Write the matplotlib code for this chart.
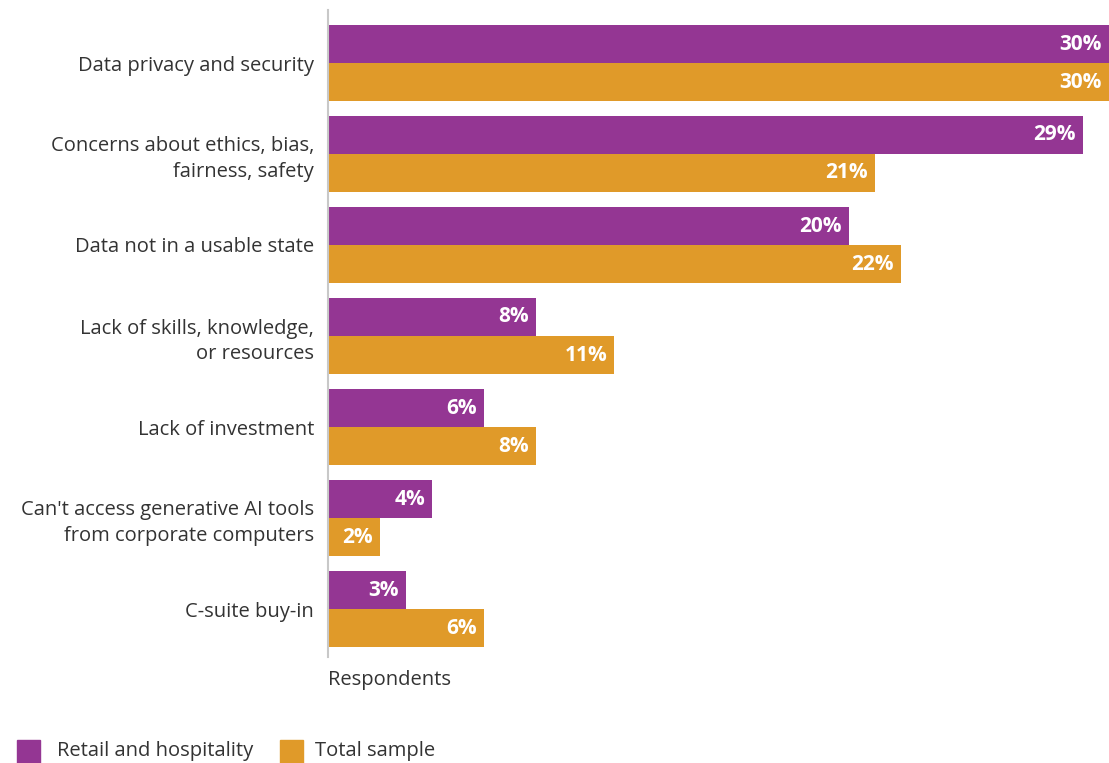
import matplotlib.pyplot as plt
from matplotlib.patches import Rectangle

# Chart data
categories = [
    "Data privacy and security",
    "Concerns about ethics, bias,\nfairness, safety",
    "Data not in a usable state",
    "Lack of skills, knowledge,\nor resources",
    "Lack of investment",
    "Can't access generative AI tools\nfrom corporate computers",
    "C-suite buy-in",
]
retail = [30, 29, 20, 8, 6, 4, 3]
total = [30, 21, 22, 11, 8, 2, 6]
series_names = ["Retail and hospitality", "Total sample"]

purple = "#943693"
orange = "#E09A29"
text_col = "#333333"
fs = 14.5

plt.rcParams['font.family'] = ['Open Sans', 'DejaVu Sans']

W, H = 1109, 763
fig = plt.figure(figsize=(W / 100, H / 100), dpi=100)

# axes placed in pixel terms
ax = fig.add_axes([328 / W, 1 - 657 / H, 1 - 328 / W, (657 - 10) / H])

bh = 38 / 91
y = list(range(len(categories)))
ax.barh([v - bh / 2 for v in y], retail, height=bh, color=purple)
ax.barh([v + bh / 2 for v in y], total, height=bh, color=orange)

ax.set_xlim(0, 30)
ax.set_ylim(6 + 48 / 91, -53 / 91)

# value labels inside bar ends
for i in y:
    ax.annotate(f"{retail[i]}%", (retail[i], i - bh / 2), xytext=(-5, 0),
                textcoords="offset points", ha="right", va="center",
                color="white", fontsize=15, fontweight="bold")
    ax.annotate(f"{total[i]}%", (total[i], i + bh / 2), xytext=(-5, 0),
                textcoords="offset points", ha="right", va="center",
                color="white", fontsize=15, fontweight="bold")

ax.set_yticks(y)
ax.set_yticklabels(categories, fontsize=fs, color=text_col, ha="right",
                   multialignment="right", linespacing=1.35)
ax.tick_params(axis="y", length=0, pad=10)
ax.set_xticks([])
for s in ["top", "right", "bottom"]:
    ax.spines[s].set_visible(False)
ax.spines["left"].set_color("#c8c8c8")
ax.spines["left"].set_linewidth(1.5)

fig.text(328 / W, 1 - 680 / H, "Respondents", fontsize=fs, color=text_col,
         ha="left", va="center")

# legend drawn by hand at the bottom
for x0, tx, name, col in [(17, 57, series_names[0], purple),
                          (280, 315, series_names[1], orange)]:
    fig.patches.append(Rectangle((x0 / W, 0), 23 / W, 23 / H, color=col,
                                 transform=fig.transFigure, figure=fig))
    fig.text(tx / W, 1 - 751 / H, name, fontsize=fs, color=text_col,
             ha="left", va="center")

fig.savefig("out.png", dpi=100)
